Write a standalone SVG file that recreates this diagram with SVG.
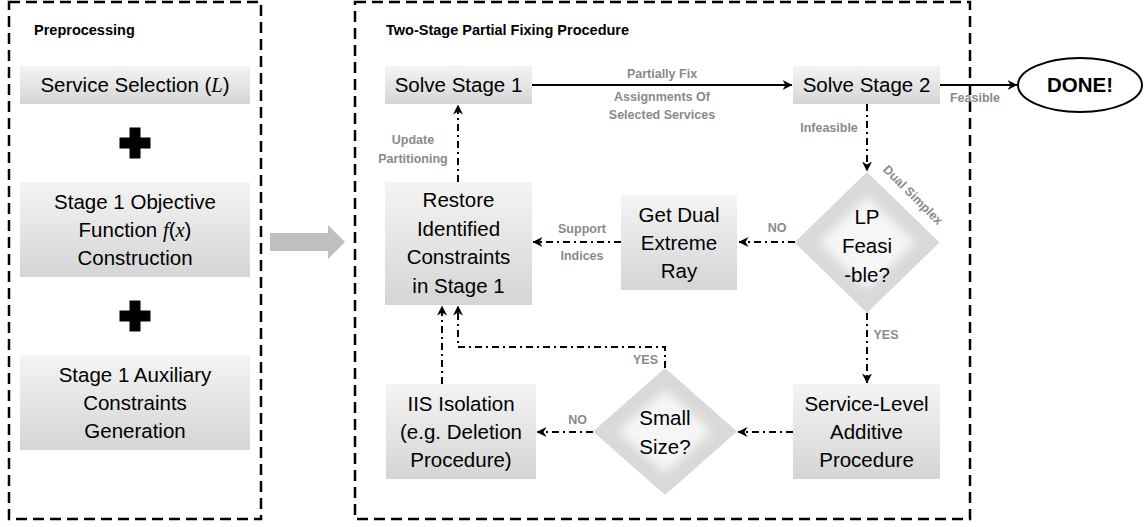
<svg xmlns="http://www.w3.org/2000/svg" width="1146" height="527" viewBox="0 0 1146 527">
  <defs>
    <linearGradient id="boxFill" x1="0" y1="0" x2="0" y2="1">
      <stop offset="0" stop-color="#f4f4f4"/>
      <stop offset="1" stop-color="#d5d5d5"/>
    </linearGradient>
    <filter id="soft" x="-20%" y="-20%" width="140%" height="140%">
      <feGaussianBlur stdDeviation="5"/>
    </filter>
    <marker id="head" viewBox="0 0 10 10" refX="9.5" refY="5" markerWidth="10" markerHeight="10" markerUnits="userSpaceOnUse" orient="auto">
      <path d="M0,0 L10,5 L0,10 L3,5 z" fill="#000"/>
    </marker>
    <style>
      .frame { fill: none; stroke: #000; stroke-width: 2.5; stroke-dasharray: 11 6; }
      .title { font-family: "Liberation Sans", Arial, sans-serif; font-size: 14.5px; font-weight: bold; fill: #000; }
      .box { fill: url(#boxFill); }
      .txt { font-family: "Liberation Sans", Arial, sans-serif; font-size: 20.5px; fill: #000; text-anchor: middle; }
      .math { font-family: "Liberation Serif", "Times New Roman", serif; font-style: italic; }
      .lbl { font-family: "Liberation Sans", Arial, sans-serif; font-size: 12.5px; font-weight: bold; fill: #8a8a8a; text-anchor: middle; }
      .solid { fill: none; stroke: #000; stroke-width: 2; marker-end: url(#head); }
      .dd { fill: none; stroke: #000; stroke-width: 2; stroke-dasharray: 7 4 2 4; marker-end: url(#head); }
      .dOuter { fill: #d9d9d9; }
      .dInner { fill: #f6f6f6; filter: url(#soft); }
    </style>
  </defs>

  <rect width="1146" height="527" fill="#fff"/>

  <!-- panel frames -->
  <g id="preprocessing-panel">
    <rect class="frame" x="9" y="2" width="252" height="517"/>
    <text class="title" x="34" y="35">Preprocessing</text>
  </g>
  <g id="fixing-panel">
    <rect class="frame" x="355" y="2" width="615" height="517"/>
    <text class="title" x="386" y="35">Two-Stage Partial Fixing Procedure</text>
  </g>

  <!-- preprocessing steps -->
  <g id="service-selection">
    <rect class="box" x="20" y="66" width="230" height="38"/>
    <text class="txt" x="135" y="92">Service Selection (<tspan class="math">L</tspan>)</text>
  </g>
  <g id="plus-1">
    <path d="M129.5,127.5 h11 v10 h10 v11 h-10 v10 h-11 v-10 h-10 v-11 h10 z" fill="#000"/>
  </g>
  <g id="objective-construction">
    <rect class="box" x="20" y="182" width="230" height="95"/>
    <text class="txt" x="135" y="209">Stage 1 Objective</text>
    <text class="txt" x="135" y="237">Function <tspan class="math">f</tspan>(<tspan class="math">x</tspan>)</text>
    <text class="txt" x="135" y="265">Construction</text>
  </g>
  <g id="plus-2">
    <path d="M129.5,300.5 h11 v10 h10 v11 h-10 v10 h-11 v-10 h-10 v-11 h10 z" fill="#000"/>
  </g>
  <g id="auxiliary-constraints">
    <rect class="box" x="20" y="355" width="230" height="95"/>
    <text class="txt" x="135" y="382">Stage 1 Auxiliary</text>
    <text class="txt" x="135" y="410">Constraints</text>
    <text class="txt" x="135" y="438">Generation</text>
  </g>

  <!-- block arrow between panels -->
  <g id="panel-arrow">
    <path d="M270,233 H328 V225 L345,242 L328,259 V251 H270 z" fill="#bfbfbf"/>
  </g>

  <!-- fixing procedure nodes -->
  <g id="solve-stage-1">
    <rect class="box" x="385" y="66" width="147" height="38"/>
    <text class="txt" x="458.5" y="92">Solve Stage 1</text>
  </g>
  <g id="solve-stage-2">
    <rect class="box" x="793" y="66" width="147" height="38"/>
    <text class="txt" x="866.5" y="92">Solve Stage 2</text>
  </g>
  <g id="done">
    <ellipse cx="1080" cy="85" rx="62" ry="27" fill="#fff" stroke="#000" stroke-width="2"/>
    <text class="txt" x="1080" y="92" font-weight="bold">DONE!</text>
  </g>
  <g id="restore-constraints">
    <rect class="box" x="385" y="182" width="147" height="123"/>
    <text class="txt" x="458.5" y="207">Restore</text>
    <text class="txt" x="458.5" y="235.5">Identified</text>
    <text class="txt" x="458.5" y="264">Constraints</text>
    <text class="txt" x="458.5" y="292.5">in Stage 1</text>
  </g>
  <g id="dual-ray">
    <rect class="box" x="621" y="195" width="116" height="95"/>
    <text class="txt" x="679" y="221.5">Get Dual</text>
    <text class="txt" x="679" y="249.5">Extreme</text>
    <text class="txt" x="679" y="277.5">Ray</text>
  </g>
  <g id="lp-feasible">
    <polygon class="dOuter" points="867,172 939.5,242.5 867,313 794.5,242.5"/>
    <polygon class="dInner" points="867,196 915,242.5 867,289 819,242.5"/>
    <text class="txt" x="867" y="224">LP</text>
    <text class="txt" x="867" y="253">Feasi</text>
    <text class="txt" x="867" y="282">-ble?</text>
  </g>
  <g id="service-level-additive">
    <rect class="box" x="793" y="384" width="147" height="95"/>
    <text class="txt" x="866.5" y="410.5">Service-Level</text>
    <text class="txt" x="866.5" y="438.5">Additive</text>
    <text class="txt" x="866.5" y="466.5">Procedure</text>
  </g>
  <g id="small-size">
    <polygon class="dOuter" points="665,368 737,431.5 665,495 593,431.5"/>
    <polygon class="dInner" points="665,390 712,431.5 665,473 618,431.5"/>
    <text class="txt" x="665" y="425">Small</text>
    <text class="txt" x="665" y="454">Size?</text>
  </g>
  <g id="iis-isolation">
    <rect class="box" x="386" y="384" width="150" height="95"/>
    <text class="txt" x="461" y="410.5">IIS Isolation</text>
    <text class="txt" x="461" y="438.5">(e.g. Deletion</text>
    <text class="txt" x="461" y="466.5">Procedure)</text>
  </g>

  <!-- connectors -->
  <g id="connectors">
    <path class="solid" d="M532,85 H792"/>
    <path class="solid" d="M940,85 H1017"/>
    <path class="dd" d="M867,104 V171"/>
    <path class="dd" d="M795,242 H739"/>
    <path class="dd" d="M621,242 H533"/>
    <path class="dd" d="M458,182 V105"/>
    <path class="dd" d="M867,313 V383"/>
    <path class="dd" d="M793,432 H738"/>
    <path class="dd" d="M593,432 H537"/>
    <path class="dd" d="M665,368 V347 H458 V306"/>
    <path class="dd" d="M442,384 V306"/>

    <text class="lbl" x="662" y="78">Partially Fix</text>
    <text class="lbl" x="662" y="101">Assignments Of</text>
    <text class="lbl" x="662" y="119">Selected Services</text>
    <text class="lbl" x="975" y="102">Feasible</text>
    <text class="lbl" x="829" y="132">Infeasible</text>
    <text class="lbl" transform="translate(910,198) rotate(45)" x="0" y="0">Dual Simplex</text>
    <text class="lbl" x="777" y="232">NO</text>
    <text class="lbl" x="582" y="233">Support</text>
    <text class="lbl" x="582" y="260">Indices</text>
    <text class="lbl" x="413" y="144">Update</text>
    <text class="lbl" x="413" y="163">Partitioning</text>
    <text class="lbl" x="886" y="339">YES</text>
    <text class="lbl" x="577.5" y="424">NO</text>
    <text class="lbl" x="645.5" y="364">YES</text>
  </g>
</svg>
